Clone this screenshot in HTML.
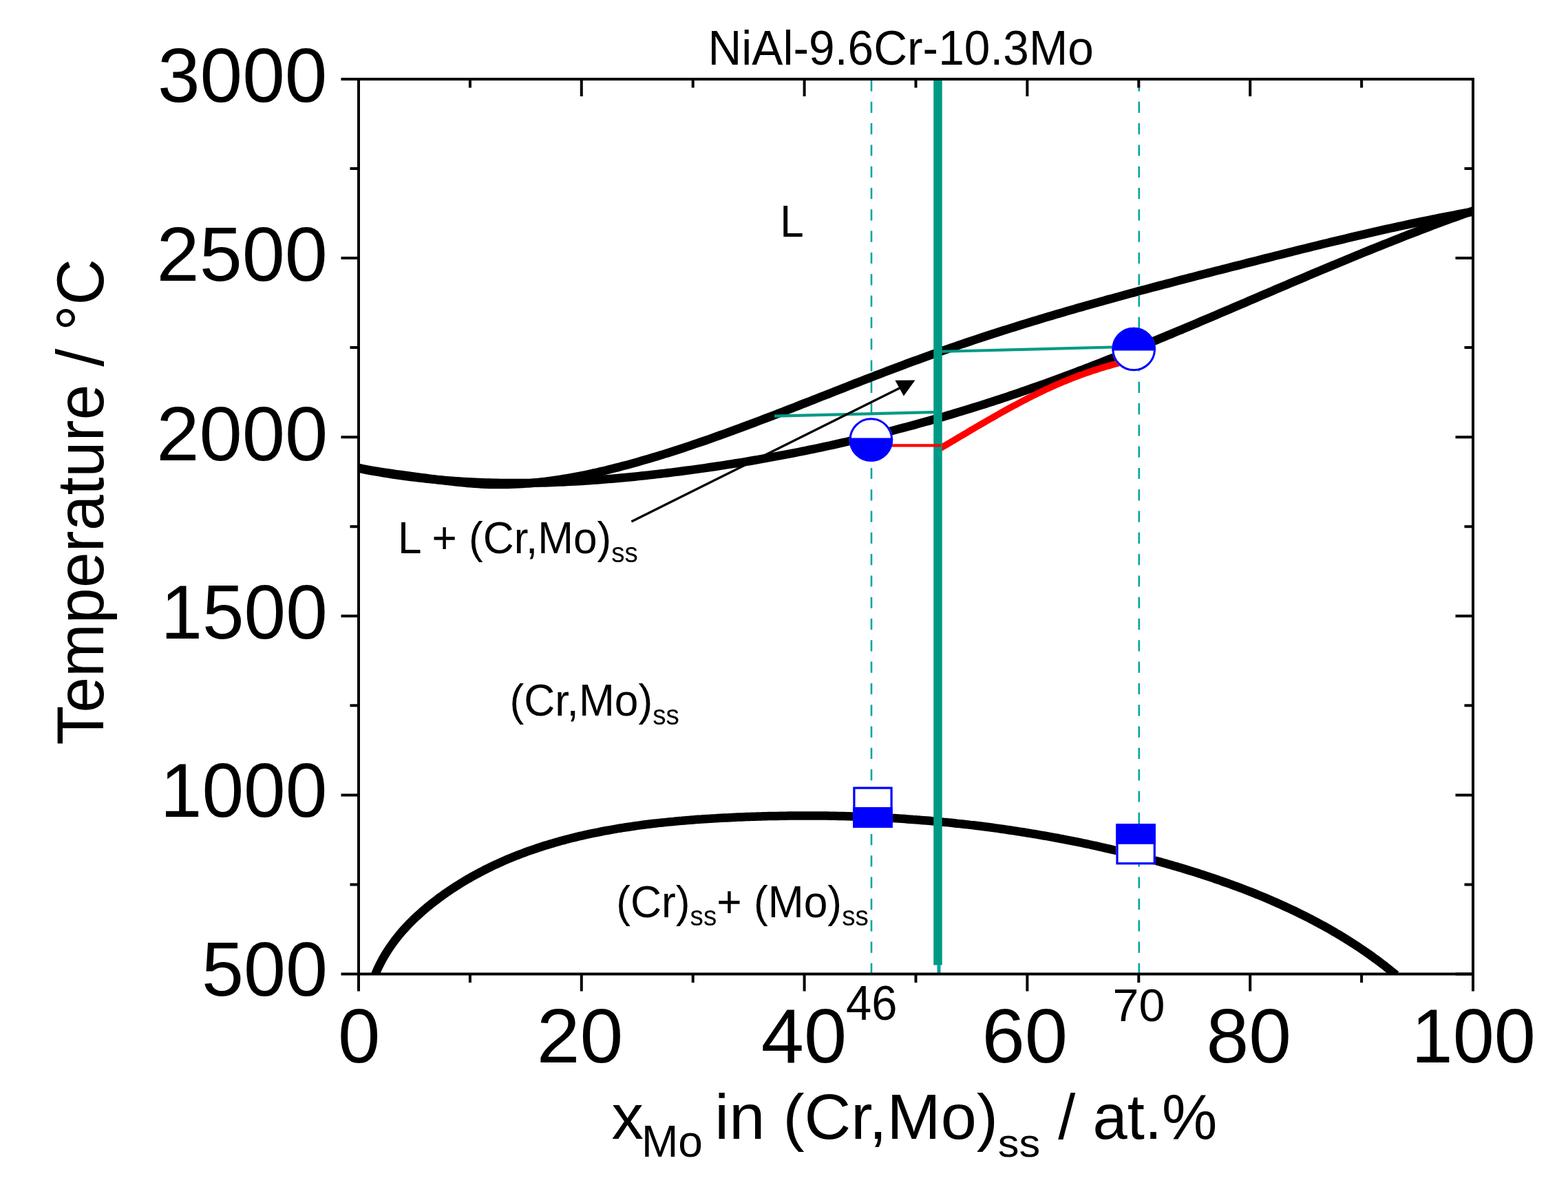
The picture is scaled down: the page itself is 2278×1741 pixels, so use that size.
<!DOCTYPE html>
<html><head><meta charset="utf-8"><title>NiAl-9.6Cr-10.3Mo</title>
<style>html,body{margin:0;padding:0;background:#fff;}svg{display:block;}</style></head>
<body><svg xmlns="http://www.w3.org/2000/svg" width="2278" height="1741" viewBox="0 0 2278 1741"><defs><clipPath id="pc"><rect x="521" y="115" width="1619" height="1300.5"/></clipPath></defs><line x1="1266.0" y1="116.5" x2="1266.0" y2="1414" stroke="#04a4a4" stroke-width="2.6" stroke-dasharray="16.2 15.1" stroke-dashoffset="0"/><line x1="1654.8" y1="116.5" x2="1654.8" y2="1414" stroke="#04a4a4" stroke-width="2.6" stroke-dasharray="16.2 15.1" stroke-dashoffset="0"/><g clip-path="url(#pc)" fill="none" stroke="#000" stroke-width="12.5" stroke-linejoin="round" stroke-linecap="butt"><path d="M521.0,679.9 L526.4,681.1 L531.8,682.1 L537.2,683.1 L542.7,684.1 L548.1,685.0 L553.5,685.9 L558.9,686.7 L564.3,687.5 L569.7,688.3 L575.1,689.1 L580.6,689.8 L586.0,690.5 L591.4,691.3 L596.8,692.0 L602.2,692.7 L607.6,693.4 L613.1,694.1 L618.5,694.8 L623.9,695.6 L629.3,696.3 L634.7,697.0 L640.1,697.7 L645.5,698.3 L651.0,699.0 L656.4,699.6 L661.8,700.2 L667.2,700.8 L672.6,701.3 L678.0,701.9 L683.4,702.3 L688.9,702.7 L694.3,703.1 L699.7,703.4 L705.1,703.7 L710.5,703.9 L715.9,704.0 L721.3,704.1 L726.8,704.1 L732.2,704.1 L737.6,703.9 L743.0,703.8 L748.4,703.6 L753.8,703.3 L759.2,703.0 L764.7,702.6 L770.1,702.2 L775.5,701.7 L780.9,701.1 L786.3,700.5 L791.7,699.9 L797.2,699.2 L802.6,698.5 L808.0,697.7 L813.4,696.9 L818.8,696.0 L824.2,695.1 L829.6,694.2 L835.1,693.2 L840.5,692.2 L845.9,691.1 L851.3,690.0 L856.7,688.9 L862.1,687.7 L867.5,686.5 L873.0,685.2 L878.4,684.0 L883.8,682.7 L889.2,681.3 L894.6,679.9 L900.0,678.6 L905.4,677.1 L910.9,675.7 L916.3,674.2 L921.7,672.7 L927.1,671.2 L932.5,669.6 L937.9,668.1 L943.3,666.5 L948.8,664.8 L954.2,663.2 L959.6,661.6 L965.0,659.9 L970.4,658.2 L975.8,656.5 L981.3,654.7 L986.7,653.0 L992.1,651.2 L997.5,649.4 L1002.9,647.6 L1008.3,645.7 L1013.7,643.9 L1019.2,642.0 L1024.6,640.2 L1030.0,638.3 L1035.4,636.4 L1040.8,634.4 L1046.2,632.5 L1051.6,630.6 L1057.1,628.6 L1062.5,626.6 L1067.9,624.6 L1073.3,622.7 L1078.7,620.6 L1084.1,618.6 L1089.5,616.6 L1095.0,614.6 L1100.4,612.5 L1105.8,610.5 L1111.2,608.4 L1116.6,606.3 L1122.0,604.3 L1127.4,602.2 L1132.9,600.1 L1138.3,598.0 L1143.7,595.9 L1149.1,593.8 L1154.5,591.7 L1159.9,589.6 L1165.4,587.4 L1170.8,585.3 L1176.2,583.2 L1181.6,581.1 L1187.0,579.0 L1192.4,576.8 L1197.8,574.7 L1203.3,572.6 L1208.7,570.5 L1214.1,568.3 L1219.5,566.2 L1224.9,564.1 L1230.3,562.0 L1235.7,559.8 L1241.2,557.7 L1246.6,555.6 L1252.0,553.5 L1257.4,551.4 L1262.8,549.3 L1268.2,547.2 L1273.6,545.1 L1279.1,543.1 L1284.5,541.0 L1289.9,538.9 L1295.3,536.9 L1300.7,534.8 L1306.1,532.8 L1311.5,530.8 L1317.0,528.7 L1322.4,526.7 L1327.8,524.7 L1333.2,522.8 L1338.6,520.8 L1344.0,518.8 L1349.5,516.9 L1354.9,514.9 L1360.3,513.0 L1365.7,511.1 L1371.1,509.2 L1376.5,507.3 L1381.9,505.4 L1387.4,503.6 L1392.8,501.7 L1398.2,499.9 L1403.6,498.0 L1409.0,496.2 L1414.4,494.4 L1419.8,492.6 L1425.3,490.8 L1430.7,489.0 L1436.1,487.3 L1441.5,485.5 L1446.9,483.8 L1452.3,482.0 L1457.7,480.3 L1463.2,478.6 L1468.6,476.9 L1474.0,475.2 L1479.4,473.5 L1484.8,471.8 L1490.2,470.1 L1495.6,468.5 L1501.1,466.8 L1506.5,465.2 L1511.9,463.6 L1517.3,461.9 L1522.7,460.3 L1528.1,458.7 L1533.6,457.1 L1539.0,455.5 L1544.4,453.9 L1549.8,452.3 L1555.2,450.8 L1560.6,449.2 L1566.0,447.6 L1571.5,446.1 L1576.9,444.6 L1582.3,443.0 L1587.7,441.5 L1593.1,440.0 L1598.5,438.4 L1603.9,436.9 L1609.4,435.4 L1614.8,433.9 L1620.2,432.4 L1625.6,431.0 L1631.0,429.5 L1636.4,428.0 L1641.8,426.5 L1647.3,425.1 L1652.7,423.6 L1658.1,422.1 L1663.5,420.7 L1668.9,419.2 L1674.3,417.8 L1679.7,416.4 L1685.2,414.9 L1690.6,413.5 L1696.0,412.1 L1701.4,410.7 L1706.8,409.2 L1712.2,407.8 L1717.7,406.4 L1723.1,405.0 L1728.5,403.6 L1733.9,402.2 L1739.3,400.8 L1744.7,399.4 L1750.1,398.0 L1755.6,396.6 L1761.0,395.2 L1766.4,393.8 L1771.8,392.5 L1777.2,391.1 L1782.6,389.7 L1788.0,388.3 L1793.5,386.9 L1798.9,385.6 L1804.3,384.2 L1809.7,382.8 L1815.1,381.4 L1820.5,380.1 L1825.9,378.7 L1831.4,377.3 L1836.8,375.9 L1842.2,374.6 L1847.6,373.2 L1853.0,371.8 L1858.4,370.5 L1863.8,369.1 L1869.3,367.7 L1874.7,366.4 L1880.1,365.0 L1885.5,363.7 L1890.9,362.3 L1896.3,361.0 L1901.8,359.7 L1907.2,358.3 L1912.6,357.0 L1918.0,355.7 L1923.4,354.3 L1928.8,353.0 L1934.2,351.7 L1939.7,350.4 L1945.1,349.1 L1950.5,347.8 L1955.9,346.5 L1961.3,345.2 L1966.7,343.9 L1972.1,342.7 L1977.6,341.4 L1983.0,340.1 L1988.4,338.9 L1993.8,337.6 L1999.2,336.4 L2004.6,335.2 L2010.0,333.9 L2015.5,332.7 L2020.9,331.5 L2026.3,330.3 L2031.7,329.1 L2037.1,328.0 L2042.5,326.8 L2047.9,325.6 L2053.4,324.5 L2058.8,323.3 L2064.2,322.2 L2069.6,321.1 L2075.0,320.0 L2080.4,318.9 L2085.9,317.8 L2091.3,316.7 L2096.7,315.7 L2102.1,314.6 L2107.5,313.6 L2112.9,312.5 L2118.3,311.5 L2123.8,310.5 L2129.2,309.5 L2134.6,308.6 L2140.0,307.6"/><path d="M521.0,680.7 L526.4,681.7 L531.8,682.8 L537.2,683.8 L542.7,684.8 L548.1,685.7 L553.5,686.6 L558.9,687.5 L564.3,688.4 L569.7,689.2 L575.1,690.0 L580.6,690.8 L586.0,691.6 L591.4,692.3 L596.8,693.0 L602.2,693.6 L607.6,694.3 L613.1,694.9 L618.5,695.5 L623.9,696.0 L629.3,696.6 L634.7,697.1 L640.1,697.5 L645.5,698.0 L651.0,698.4 L656.4,698.8 L661.8,699.2 L667.2,699.6 L672.6,699.9 L678.0,700.2 L683.4,700.5 L688.9,700.7 L694.3,701.0 L699.7,701.2 L705.1,701.4 L710.5,701.5 L715.9,701.7 L721.3,701.8 L726.8,701.9 L732.2,701.9 L737.6,702.0 L743.0,702.0 L748.4,702.0 L753.8,702.0 L759.2,702.0 L764.7,701.9 L770.1,701.9 L775.5,701.8 L780.9,701.7 L786.3,701.5 L791.7,701.4 L797.2,701.2 L802.6,701.0 L808.0,700.8 L813.4,700.6 L818.8,700.4 L824.2,700.1 L829.6,699.8 L835.1,699.5 L840.5,699.2 L845.9,698.9 L851.3,698.5 L856.7,698.2 L862.1,697.8 L867.5,697.4 L873.0,697.0 L878.4,696.6 L883.8,696.1 L889.2,695.7 L894.6,695.2 L900.0,694.7 L905.4,694.2 L910.9,693.7 L916.3,693.2 L921.7,692.7 L927.1,692.1 L932.5,691.5 L937.9,691.0 L943.3,690.4 L948.8,689.8 L954.2,689.1 L959.6,688.5 L965.0,687.9 L970.4,687.2 L975.8,686.6 L981.3,685.9 L986.7,685.2 L992.1,684.5 L997.5,683.8 L1002.9,683.1 L1008.3,682.4 L1013.7,681.6 L1019.2,680.9 L1024.6,680.1 L1030.0,679.3 L1035.4,678.5 L1040.8,677.7 L1046.2,676.9 L1051.6,676.1 L1057.1,675.2 L1062.5,674.4 L1067.9,673.5 L1073.3,672.7 L1078.7,671.8 L1084.1,670.9 L1089.5,670.0 L1095.0,669.0 L1100.4,668.1 L1105.8,667.2 L1111.2,666.2 L1116.6,665.2 L1122.0,664.2 L1127.4,663.2 L1132.9,662.2 L1138.3,661.2 L1143.7,660.2 L1149.1,659.1 L1154.5,658.1 L1159.9,657.0 L1165.4,655.9 L1170.8,654.8 L1176.2,653.7 L1181.6,652.6 L1187.0,651.5 L1192.4,650.3 L1197.8,649.2 L1203.3,648.0 L1208.7,646.8 L1214.1,645.6 L1219.5,644.4 L1224.9,643.2 L1230.3,642.0 L1235.7,640.7 L1241.2,639.5 L1246.6,638.2 L1252.0,636.9 L1257.4,635.6 L1262.8,634.3 L1268.2,633.0 L1273.6,631.6 L1279.1,630.3 L1284.5,628.9 L1289.9,627.6 L1295.3,626.2 L1300.7,624.8 L1306.1,623.3 L1311.5,621.9 L1317.0,620.5 L1322.4,619.0 L1327.8,617.6 L1333.2,616.1 L1338.6,614.6 L1344.0,613.1 L1349.5,611.6 L1354.9,610.0 L1360.3,608.5 L1365.7,606.9 L1371.1,605.4 L1376.5,603.8 L1381.9,602.2 L1387.4,600.6 L1392.8,598.9 L1398.2,597.3 L1403.6,595.6 L1409.0,594.0 L1414.4,592.3 L1419.8,590.6 L1425.3,588.9 L1430.7,587.2 L1436.1,585.4 L1441.5,583.7 L1446.9,581.9 L1452.3,580.2 L1457.7,578.4 L1463.2,576.6 L1468.6,574.7 L1474.0,572.9 L1479.4,571.1 L1484.8,569.2 L1490.2,567.3 L1495.6,565.4 L1501.1,563.5 L1506.5,561.6 L1511.9,559.7 L1517.3,557.8 L1522.7,555.8 L1528.1,553.8 L1533.6,551.9 L1539.0,549.9 L1544.4,547.9 L1549.8,545.8 L1555.2,543.8 L1560.6,541.8 L1566.0,539.7 L1571.5,537.7 L1576.9,535.6 L1582.3,533.5 L1587.7,531.4 L1593.1,529.3 L1598.5,527.2 L1603.9,525.0 L1609.4,522.9 L1614.8,520.8 L1620.2,518.6 L1625.6,516.4 L1631.0,514.3 L1636.4,512.1 L1641.8,509.9 L1647.3,507.7 L1652.7,505.5 L1658.1,503.3 L1663.5,501.1 L1668.9,498.9 L1674.3,496.6 L1679.7,494.4 L1685.2,492.1 L1690.6,489.9 L1696.0,487.6 L1701.4,485.4 L1706.8,483.1 L1712.2,480.8 L1717.7,478.6 L1723.1,476.3 L1728.5,474.0 L1733.9,471.7 L1739.3,469.4 L1744.7,467.1 L1750.1,464.8 L1755.6,462.5 L1761.0,460.2 L1766.4,457.9 L1771.8,455.6 L1777.2,453.3 L1782.6,451.0 L1788.0,448.7 L1793.5,446.3 L1798.9,444.0 L1804.3,441.7 L1809.7,439.4 L1815.1,437.1 L1820.5,434.7 L1825.9,432.4 L1831.4,430.1 L1836.8,427.8 L1842.2,425.5 L1847.6,423.2 L1853.0,420.8 L1858.4,418.5 L1863.8,416.2 L1869.3,413.9 L1874.7,411.6 L1880.1,409.3 L1885.5,407.0 L1890.9,404.7 L1896.3,402.4 L1901.8,400.1 L1907.2,397.8 L1912.6,395.5 L1918.0,393.3 L1923.4,391.0 L1928.8,388.7 L1934.2,386.4 L1939.7,384.2 L1945.1,381.9 L1950.5,379.7 L1955.9,377.4 L1961.3,375.2 L1966.7,373.0 L1972.1,370.7 L1977.6,368.5 L1983.0,366.3 L1988.4,364.1 L1993.8,361.9 L1999.2,359.7 L2004.6,357.6 L2010.0,355.4 L2015.5,353.2 L2020.9,351.1 L2026.3,348.9 L2031.7,346.8 L2037.1,344.7 L2042.5,342.5 L2047.9,340.4 L2053.4,338.3 L2058.8,336.3 L2064.2,334.2 L2069.6,332.1 L2075.0,330.1 L2080.4,328.0 L2085.9,326.0 L2091.3,324.0 L2096.7,322.0 L2102.1,320.0 L2107.5,318.0 L2112.9,316.1 L2118.3,314.1 L2123.8,312.2 L2129.2,310.2 L2134.6,308.3 L2140.0,306.4"/><path d="M544.6,1417.6 L546.2,1413.7 L547.8,1409.9 L549.5,1406.2 L551.3,1402.5 L553.2,1398.8 L555.1,1395.2 L557.1,1391.6 L559.1,1388.1 L561.3,1384.6 L563.4,1381.2 L565.7,1377.8 L568.0,1374.5 L570.3,1371.2 L572.7,1367.9 L575.2,1364.7 L577.7,1361.5 L580.2,1358.4 L582.8,1355.3 L585.5,1352.2 L588.2,1349.2 L590.9,1346.3 L593.7,1343.3 L596.5,1340.4 L599.4,1337.6 L602.3,1334.8 L605.2,1332.0 L608.2,1329.3 L611.2,1326.6 L614.2,1323.9 L617.3,1321.3 L620.3,1318.7 L623.5,1316.1 L626.6,1313.6 L629.8,1311.1 L633.0,1308.7 L636.2,1306.2 L639.4,1303.9 L642.7,1301.5 L645.9,1299.2 L649.2,1296.9 L652.5,1294.6 L655.8,1292.4 L659.1,1290.2 L662.5,1288.0 L665.8,1285.9 L669.2,1283.8 L672.6,1281.7 L676.0,1279.7 L679.4,1277.7 L682.9,1275.7 L686.3,1273.7 L689.8,1271.8 L693.3,1269.9 L696.8,1268.1 L700.3,1266.2 L703.8,1264.4 L707.3,1262.6 L710.9,1260.9 L714.4,1259.1 L718.0,1257.4 L721.6,1255.8 L725.2,1254.1 L728.8,1252.5 L732.4,1250.9 L736.0,1249.3 L739.7,1247.8 L743.3,1246.3 L747.0,1244.8 L750.7,1243.3 L754.4,1241.9 L758.1,1240.5 L761.8,1239.1 L765.5,1237.7 L769.2,1236.4 L773.0,1235.1 L776.8,1233.8 L780.5,1232.5 L784.3,1231.3 L788.1,1230.0 L791.9,1228.8 L795.7,1227.7 L799.5,1226.5 L803.3,1225.4 L807.2,1224.3 L811.0,1223.2 L814.9,1222.1 L818.7,1221.1 L822.6,1220.0 L826.5,1219.0 L830.3,1218.0 L834.2,1217.1 L838.1,1216.1 L842.0,1215.2 L846.0,1214.3 L849.9,1213.4 L853.8,1212.5 L857.8,1211.7 L861.7,1210.9 L865.7,1210.1 L869.6,1209.3 L873.6,1208.5 L877.5,1207.7 L881.5,1207.0 L885.5,1206.3 L889.5,1205.6 L893.5,1204.9 L897.5,1204.2 L901.5,1203.5 L905.5,1202.9 L909.5,1202.3 L913.5,1201.7 L917.5,1201.1 L921.6,1200.5 L925.6,1199.9 L929.6,1199.4 L933.7,1198.8 L937.7,1198.3 L941.8,1197.8 L945.8,1197.3 L949.9,1196.8 L953.9,1196.4 L958.0,1195.9 L962.1,1195.5 L966.1,1195.1 L970.2,1194.6 L974.3,1194.2 L978.3,1193.9 L982.4,1193.5 L986.5,1193.1 L990.6,1192.8 L994.6,1192.4 L998.7,1192.1 L1002.8,1191.7 L1006.9,1191.4 L1011.0,1191.1 L1015.1,1190.8 L1019.1,1190.6 L1023.2,1190.3 L1027.3,1190.0 L1031.4,1189.8 L1035.5,1189.5 L1039.6,1189.3 L1043.6,1189.0 L1047.7,1188.8 L1051.8,1188.6 L1055.9,1188.4 L1060.0,1188.2 L1064.1,1188.0 L1068.1,1187.8 L1072.2,1187.6 L1076.3,1187.5 L1080.4,1187.3 L1084.4,1187.1 L1088.5,1187.0 L1092.6,1186.8 L1096.7,1186.7 L1100.7,1186.6 L1104.8,1186.5 L1108.9,1186.3 L1112.9,1186.2 L1117.0,1186.1 L1121.0,1186.0 L1125.1,1185.9 L1129.2,1185.9 L1133.2,1185.8 L1137.3,1185.7 L1141.3,1185.7 L1145.4,1185.6 L1149.4,1185.6 L1153.5,1185.5 L1157.5,1185.5 L1161.6,1185.5 L1165.6,1185.4 L1169.7,1185.4 L1173.7,1185.4 L1177.7,1185.4 L1181.8,1185.5 L1185.8,1185.5 L1189.9,1185.5 L1193.9,1185.5 L1197.9,1185.6 L1202.0,1185.6 L1206.0,1185.7 L1210.0,1185.8 L1214.1,1185.8 L1218.1,1185.9 L1222.1,1186.0 L1226.2,1186.1 L1230.2,1186.2 L1234.2,1186.3 L1238.2,1186.4 L1242.3,1186.5 L1246.3,1186.7 L1250.3,1186.8 L1254.3,1187.0 L1258.3,1187.1 L1262.3,1187.3 L1266.4,1187.5 L1270.4,1187.6 L1274.4,1187.8 L1278.4,1188.0 L1282.4,1188.2 L1286.4,1188.4 L1290.4,1188.6 L1294.4,1188.9 L1298.4,1189.1 L1302.4,1189.3 L1306.4,1189.6 L1310.4,1189.8 L1314.4,1190.1 L1318.4,1190.4 L1322.4,1190.7 L1326.4,1191.0 L1330.4,1191.2 L1334.4,1191.6 L1338.4,1191.9 L1342.4,1192.2 L1346.4,1192.5 L1350.4,1192.8 L1354.4,1193.2 L1358.4,1193.5 L1362.3,1193.9 L1366.3,1194.3 L1370.3,1194.7 L1374.3,1195.0 L1378.3,1195.4 L1382.3,1195.8 L1386.2,1196.2 L1390.2,1196.7 L1394.2,1197.1 L1398.2,1197.5 L1402.1,1198.0 L1406.1,1198.4 L1410.1,1198.9 L1414.1,1199.3 L1418.0,1199.8 L1422.0,1200.3 L1426.0,1200.8 L1429.9,1201.3 L1433.9,1201.8 L1437.9,1202.3 L1441.8,1202.8 L1445.8,1203.4 L1449.7,1203.9 L1453.7,1204.5 L1457.7,1205.0 L1461.6,1205.6 L1465.6,1206.2 L1469.5,1206.8 L1473.5,1207.4 L1477.4,1208.0 L1481.4,1208.6 L1485.3,1209.2 L1489.3,1209.8 L1493.2,1210.5 L1497.2,1211.1 L1501.1,1211.8 L1505.1,1212.4 L1509.0,1213.1 L1513.0,1213.8 L1516.9,1214.5 L1520.9,1215.2 L1524.8,1215.9 L1528.8,1216.6 L1532.7,1217.3 L1536.6,1218.0 L1540.6,1218.8 L1544.5,1219.5 L1548.4,1220.3 L1552.4,1221.1 L1556.3,1221.8 L1560.2,1222.6 L1564.2,1223.4 L1568.1,1224.2 L1572.0,1225.0 L1576.0,1225.9 L1579.9,1226.7 L1583.8,1227.5 L1587.7,1228.4 L1591.7,1229.2 L1595.6,1230.1 L1599.5,1231.0 L1603.4,1231.9 L1607.4,1232.8 L1611.3,1233.7 L1615.2,1234.6 L1619.1,1235.5 L1623.0,1236.4 L1627.0,1237.4 L1630.9,1238.3 L1634.8,1239.3 L1638.7,1240.3 L1642.6,1241.2 L1646.5,1242.2 L1650.4,1243.2 L1654.3,1244.2 L1658.2,1245.2 L1662.2,1246.3 L1666.1,1247.3 L1670.0,1248.3 L1673.9,1249.4 L1677.8,1250.5 L1681.7,1251.5 L1685.6,1252.6 L1689.5,1253.7 L1693.4,1254.8 L1697.3,1255.9 L1701.2,1257.0 L1705.1,1258.2 L1709.0,1259.3 L1712.9,1260.5 L1716.8,1261.6 L1720.6,1262.8 L1724.5,1264.0 L1728.4,1265.2 L1732.3,1266.4 L1736.2,1267.6 L1740.0,1268.8 L1743.9,1270.1 L1747.8,1271.3 L1751.6,1272.6 L1755.5,1273.9 L1759.3,1275.1 L1763.2,1276.4 L1767.0,1277.8 L1770.9,1279.1 L1774.7,1280.4 L1778.5,1281.8 L1782.4,1283.1 L1786.2,1284.5 L1790.0,1285.9 L1793.8,1287.3 L1797.6,1288.7 L1801.4,1290.1 L1805.2,1291.5 L1809.0,1293.0 L1812.8,1294.5 L1816.5,1295.9 L1820.3,1297.4 L1824.1,1298.9 L1827.8,1300.5 L1831.6,1302.0 L1835.3,1303.5 L1839.0,1305.1 L1842.8,1306.7 L1846.5,1308.3 L1850.2,1309.9 L1853.9,1311.5 L1857.6,1313.2 L1861.3,1314.8 L1864.9,1316.5 L1868.6,1318.2 L1872.3,1319.9 L1875.9,1321.6 L1879.6,1323.3 L1883.2,1325.0 L1886.8,1326.8 L1890.4,1328.6 L1894.0,1330.4 L1897.6,1332.2 L1901.2,1334.0 L1904.8,1335.9 L1908.3,1337.7 L1911.9,1339.6 L1915.4,1341.5 L1918.9,1343.4 L1922.5,1345.3 L1926.0,1347.3 L1929.5,1349.2 L1932.9,1351.2 L1936.4,1353.2 L1939.9,1355.2 L1943.3,1357.3 L1946.8,1359.3 L1950.2,1361.4 L1953.6,1363.5 L1957.0,1365.6 L1960.4,1367.7 L1963.7,1369.9 L1967.1,1372.0 L1970.5,1374.2 L1973.8,1376.4 L1977.1,1378.6 L1980.4,1380.9 L1983.7,1383.1 L1987.0,1385.4 L1990.2,1387.7 L1993.5,1390.0 L1996.7,1392.4 L1999.9,1394.7 L2003.1,1397.1 L2006.3,1399.5 L2009.5,1401.9 L2012.7,1404.3 L2015.8,1406.8 L2018.9,1409.3 L2022.0,1411.8 L2025.1,1414.3 L2028.2,1416.9"/></g><line x1="1125" y1="604.6" x2="1362" y2="598.9" stroke="#009a84" stroke-width="4.2"/><line x1="1362" y1="511" x2="1616" y2="504.5" stroke="#009a84" stroke-width="4.2"/><path d="M1366.4,651.3 L1369.1,649.7 L1371.8,648.1 L1374.6,646.5 L1377.3,644.9 L1380.0,643.3 L1382.7,641.7 L1385.5,640.1 L1388.2,638.4 L1390.9,636.8 L1393.6,635.2 L1396.4,633.6 L1399.1,632.0 L1401.8,630.4 L1404.5,628.8 L1407.2,627.1 L1410.0,625.5 L1412.7,623.9 L1415.4,622.3 L1418.1,620.7 L1420.9,619.1 L1423.6,617.5 L1426.3,616.0 L1429.0,614.4 L1431.8,612.8 L1434.5,611.2 L1437.2,609.6 L1439.9,608.1 L1442.7,606.5 L1445.4,605.0 L1448.1,603.4 L1450.8,601.9 L1453.5,600.3 L1456.3,598.8 L1459.0,597.3 L1461.7,595.8 L1464.4,594.3 L1467.2,592.8 L1469.9,591.3 L1472.6,589.8 L1475.3,588.4 L1478.1,586.9 L1480.8,585.4 L1483.5,584.0 L1486.2,582.6 L1488.9,581.2 L1491.7,579.7 L1494.4,578.3 L1497.1,577.0 L1499.8,575.6 L1502.6,574.2 L1505.3,572.9 L1508.0,571.5 L1510.7,570.2 L1513.5,568.9 L1516.2,567.6 L1518.9,566.3 L1521.6,565.0 L1524.3,563.8 L1527.1,562.6 L1529.8,561.3 L1532.5,560.1 L1535.2,558.9 L1538.0,557.7 L1540.7,556.6 L1543.4,555.4 L1546.1,554.3 L1548.9,553.2 L1551.6,552.1 L1554.3,551.0 L1557.0,549.9 L1559.7,548.8 L1562.5,547.8 L1565.2,546.8 L1567.9,545.7 L1570.6,544.7 L1573.4,543.8 L1576.1,542.8 L1578.8,541.8 L1581.5,540.9 L1584.3,540.0 L1587.0,539.0 L1589.7,538.1 L1592.4,537.3 L1595.2,536.4 L1597.9,535.5 L1600.6,534.7 L1603.3,533.9 L1606.0,533.0 L1608.8,532.2 L1611.5,531.5 L1614.2,530.7 L1616.9,529.9 L1619.7,529.2 L1622.4,528.4 L1625.1,527.7 L1627.8,527.0 L1630.6,526.3 L1633.3,525.6 L1636.0,525.0" fill="none" stroke="#ff0000" stroke-width="9.6" stroke-linecap="butt"/><line x1="1362.5" y1="116" x2="1362.5" y2="1402.6" stroke="#009a84" stroke-width="12.5"/><line x1="1364" y1="1402" x2="1364" y2="1414" stroke="#06a2a4" stroke-width="5"/><line x1="1295" y1="647.3" x2="1367" y2="647.3" stroke="#ff0000" stroke-width="4.2"/><line x1="917.4" y1="758" x2="1312" y2="561.5" stroke="#000" stroke-width="3.4"/><polygon points="1329.5,552.6 1300.4,552.8 1312.9,575.5" fill="#000"/><circle cx="1265.4" cy="639.0" r="31.8" fill="#fff" stroke="none"/><path d="M1233.69,636.60 A31.80,31.80 0 1,0 1297.11,636.60 Z" fill="#0000ff"/><circle cx="1265.4" cy="639.0" r="30.3" fill="none" stroke="#0000ff" stroke-width="3"/><circle cx="1647.2" cy="507.5" r="31.8" fill="#fff" stroke="none"/><path d="M1615.47,509.60 A31.80,31.80 0 1,1 1678.93,509.60 Z" fill="#0000ff"/><circle cx="1647.2" cy="507.5" r="30.3" fill="none" stroke="#0000ff" stroke-width="3"/><rect x="1239.3" y="1143.5" width="57.4" height="59.5" fill="#fff"/><rect x="1239.3" y="1173.0" width="57.4" height="30.0" fill="#0000ff"/><rect x="1240.9" y="1145.1" width="54.2" height="56.3" fill="none" stroke="#0000ff" stroke-width="3.2"/><rect x="1621.4" y="1197.1" width="57.5" height="59.3" fill="#fff"/><rect x="1621.4" y="1197.1" width="57.5" height="29.7" fill="#0000ff"/><rect x="1623.0" y="1198.7" width="54.3" height="56.1" fill="none" stroke="#0000ff" stroke-width="3.2"/><rect x="521" y="115" width="1619" height="1300.5" fill="none" stroke="#000" stroke-width="4"/><path d="M521.0,1415.5V1440.5M521.0,115.0V140.0M682.9,1415.5V1428.0M682.9,115.0V127.5M844.8,1415.5V1440.5M844.8,115.0V140.0M1006.7,1415.5V1428.0M1006.7,115.0V127.5M1168.6,1415.5V1440.5M1168.6,115.0V140.0M1330.5,1415.5V1428.0M1330.5,115.0V127.5M1492.4,1415.5V1440.5M1492.4,115.0V140.0M1654.3,1415.5V1428.0M1654.3,115.0V127.5M1816.2,1415.5V1440.5M1816.2,115.0V140.0M1978.1,1415.5V1428.0M1978.1,115.0V127.5M2140.0,1415.5V1440.5M2140.0,115.0V140.0M521.0,1415.5H495.5M2140.0,1415.5H2114.5M521.0,1285.5H508.5M2140.0,1285.5H2127.5M521.0,1155.4H495.5M2140.0,1155.4H2114.5M521.0,1025.3H508.5M2140.0,1025.3H2127.5M521.0,895.3H495.5M2140.0,895.3H2114.5M521.0,765.2H508.5M2140.0,765.2H2127.5M521.0,635.2H495.5M2140.0,635.2H2114.5M521.0,505.1H508.5M2140.0,505.1H2127.5M521.0,375.1H495.5M2140.0,375.1H2114.5M521.0,245.0H508.5M2140.0,245.0H2127.5M521.0,115.0H495.5M2140.0,115.0H2114.5" stroke="#000" stroke-width="4" fill="none"/><g font-family="'Liberation Sans', Arial, Helvetica, sans-serif" fill="#000"><text transform="translate(1028.40,94.00) scale(0.9537,1)" font-size="71">NiAl-9.6Cr-10.3Mo</text><text transform="translate(229.00,147.50) scale(0.9979,1)" font-size="111">3000</text><text transform="translate(227.60,408.10) scale(1.0055,1)" font-size="111">2500</text><text transform="translate(227.20,668.60) scale(1.0089,1)" font-size="111">2000</text><text transform="translate(233.40,927.50) scale(0.9816,1)" font-size="111">1500</text><text transform="translate(232.80,1186.60) scale(0.9825,1)" font-size="111">1000</text><text transform="translate(293.00,1446.50) scale(0.9886,1)" font-size="111">500</text><text transform="translate(491.00,1544.30) scale(0.9944,1)" font-size="111">0</text><text transform="translate(779.80,1544.30) scale(1.0176,1)" font-size="111">20</text><text transform="translate(1105.80,1544.30) scale(1.0069,1)" font-size="111">40</text><text transform="translate(1426.40,1544.30) scale(1.0106,1)" font-size="111">60</text><text transform="translate(1752.40,1544.30) scale(1.0001,1)" font-size="111">80</text><text transform="translate(2050.60,1544.30) scale(0.9733,1)" font-size="111">100</text><text transform="translate(1229.00,1481.50) scale(0.9563,1)" font-size="70">46</text><text transform="translate(1616.50,1484.30) scale(1.0117,1)" font-size="67.5">70</text><text transform="translate(1133.30,343.80) scale(0.9590,1)" font-size="64.7">L</text><text transform="translate(578.00,804.10) scale(0.9640,1)" font-size="64.5">L + (Cr,Mo)<tspan font-size="40" dy="13">ss</tspan></text><text transform="translate(740.60,1039.90) scale(0.9656,1)" font-size="64.5">(Cr,Mo)<tspan font-size="40" dy="12.7">ss</tspan></text><text transform="translate(895.30,1332.80) scale(0.9668,1)" font-size="64.5">(Cr)<tspan font-size="40" dy="12.3">ss</tspan><tspan dy="-12.3">+ (Mo)</tspan><tspan font-size="40" dy="12.3">ss</tspan></text><text transform="translate(150.00,1082.50) rotate(-90) scale(0.9622,1)" font-size="97">Temperature / °C</text><text transform="translate(888.60,1655.30) scale(1.0025,1)" font-size="92.6">x</text><text transform="translate(931.90,1680.50) scale(0.9951,1)" font-size="64.4">Mo</text><text transform="translate(1038.30,1655.30) scale(1.0088,1)" font-size="93">in (Cr,Mo)</text><text transform="translate(1449.70,1680.60) scale(1.0593,1)" font-size="58">ss</text><text transform="translate(1537.30,1655.20) scale(0.9722,1)" font-size="93">/ at.%</text></g></svg></body></html>
